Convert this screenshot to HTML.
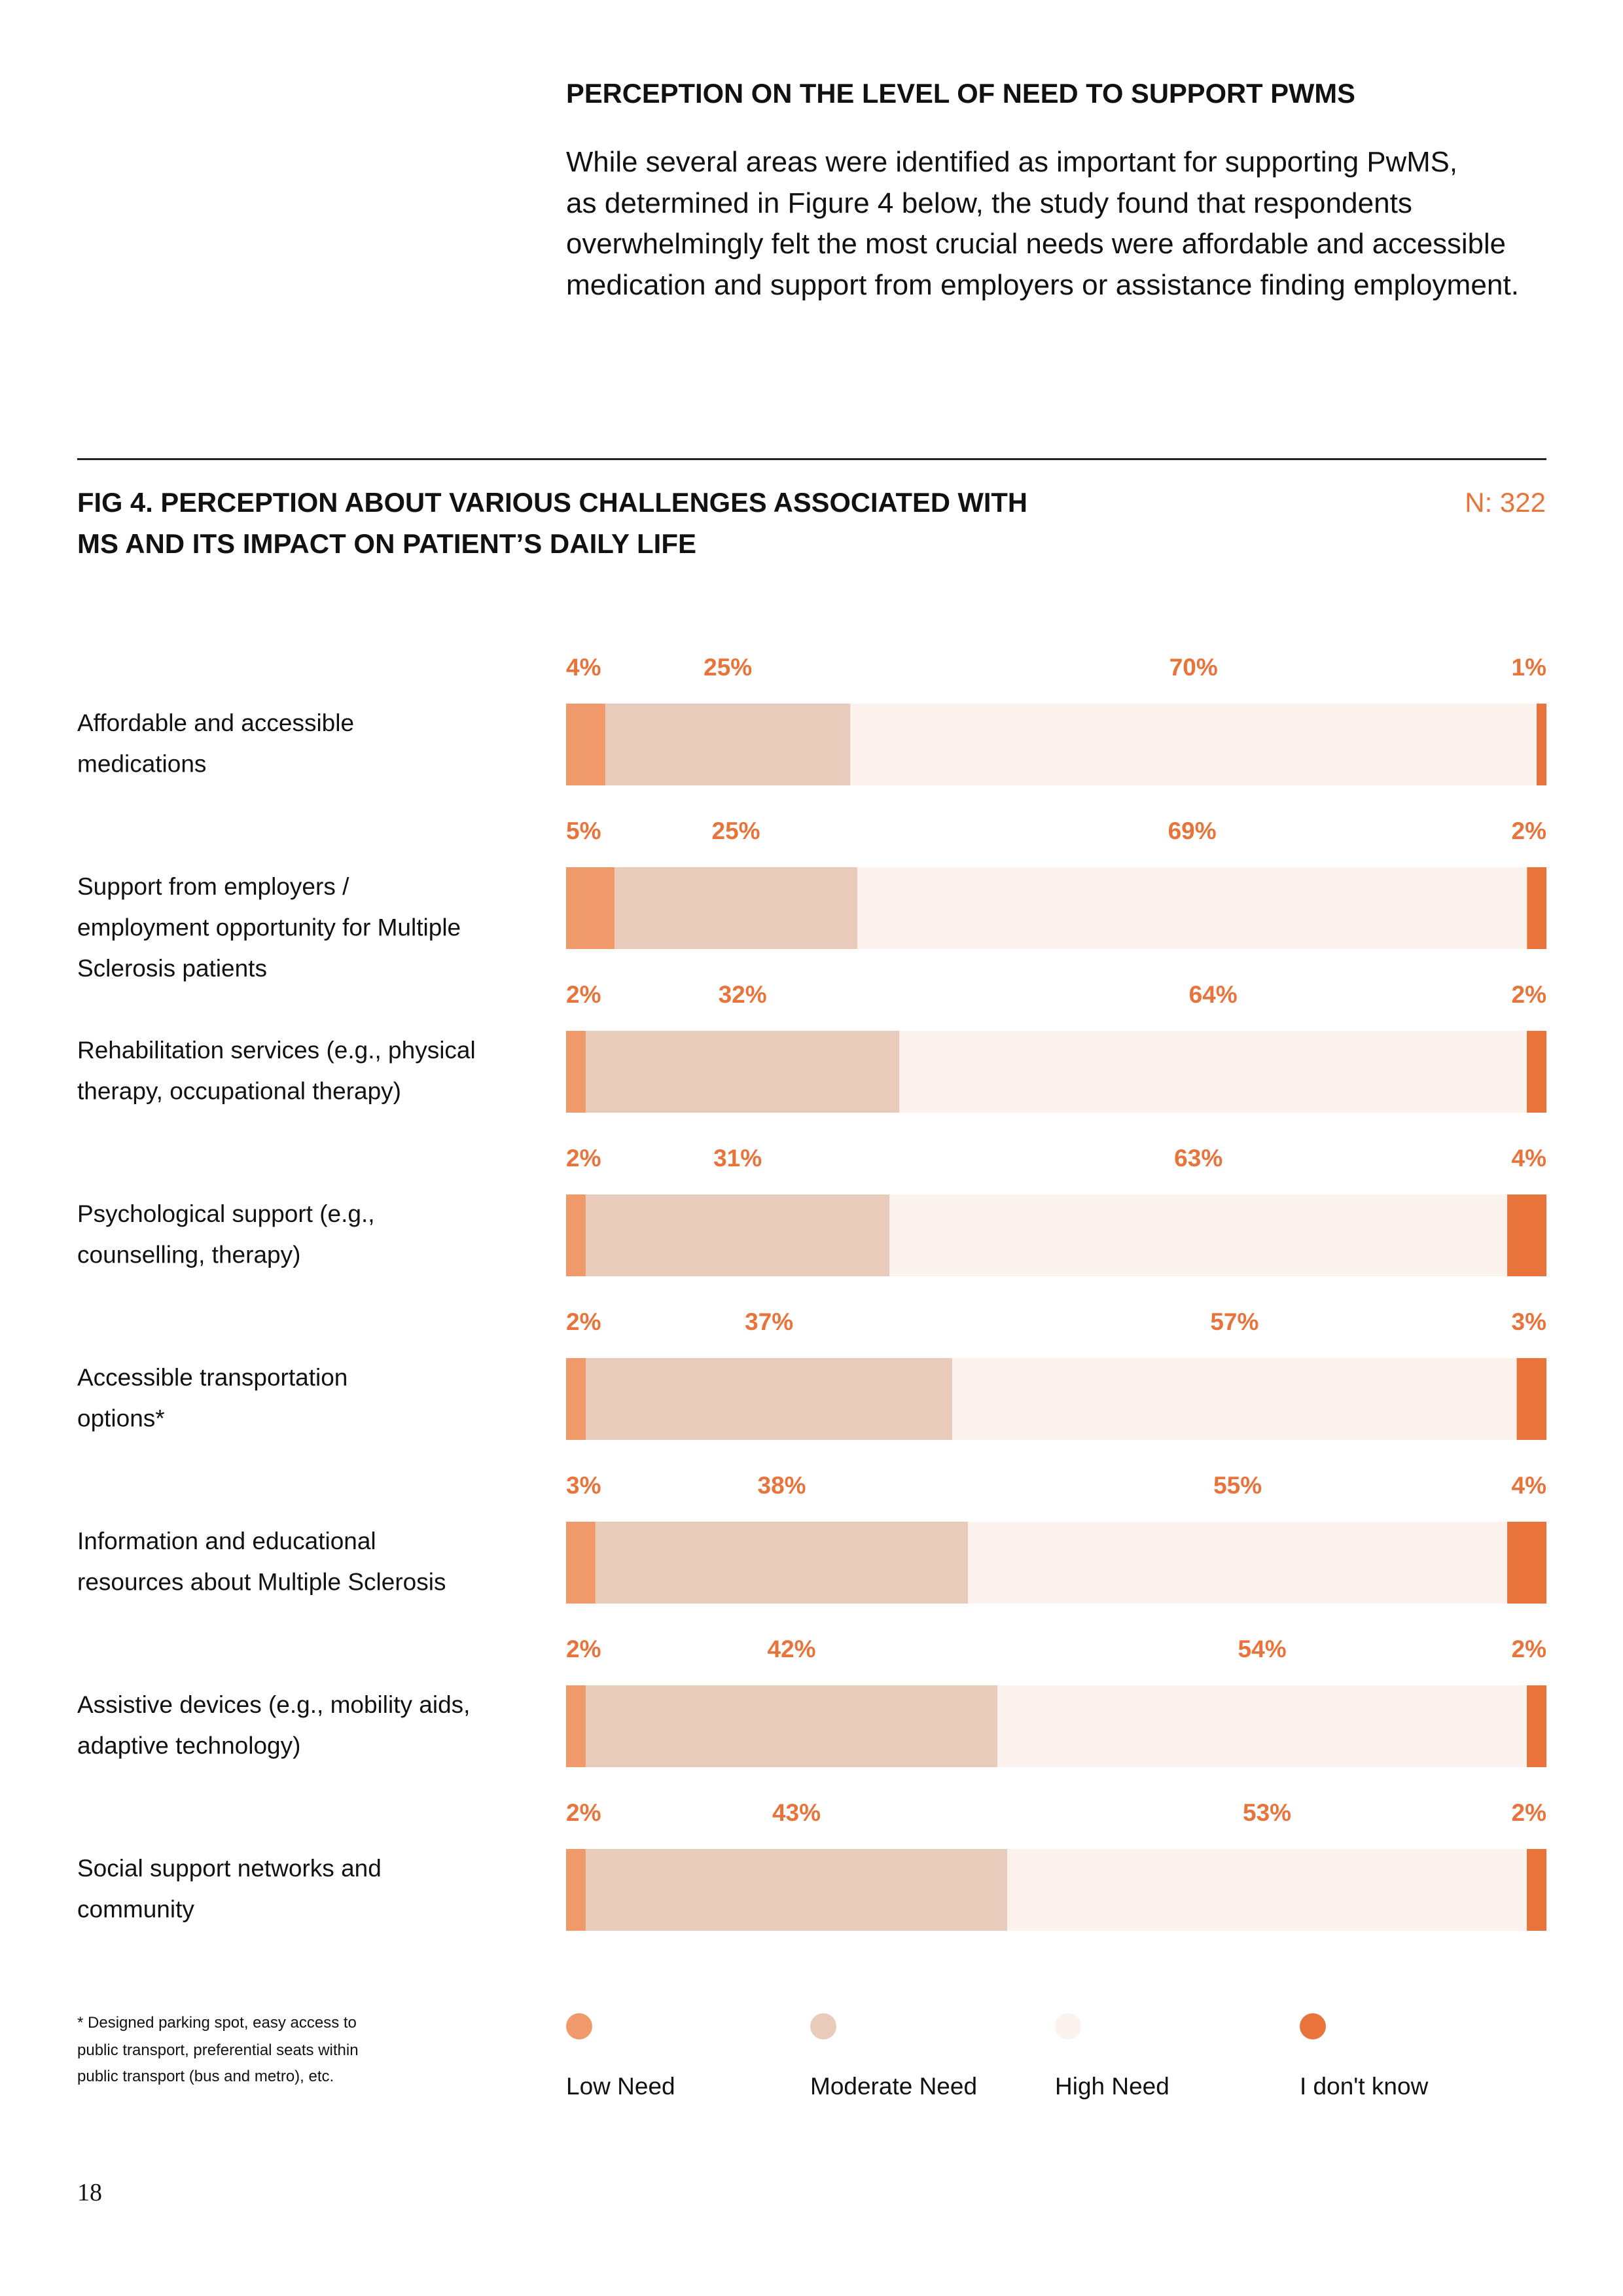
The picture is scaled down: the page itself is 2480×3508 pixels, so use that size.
<!DOCTYPE html>
<html><head><meta charset="utf-8"><style>
html,body{margin:0;padding:0;background:#fff;}
svg{display:block;font-family:"Liberation Sans",sans-serif;}
</style></head><body>
<svg id="page" width="2480" height="3508" viewBox="0 0 2480 3508" xmlns="http://www.w3.org/2000/svg">
<rect width="2480" height="3508" fill="#fff"/>
<text x="865" y="157" font-size="42" font-weight="bold" fill="#111" textLength="1206" lengthAdjust="spacingAndGlyphs">PERCEPTION ON THE LEVEL OF NEED TO SUPPORT PWMS</text>
<g font-size="44" fill="#111">
<text x="865" y="262" textLength="1362" lengthAdjust="spacingAndGlyphs">While several areas were identified as important for supporting PwMS,</text>
<text x="865" y="325" textLength="1293" lengthAdjust="spacingAndGlyphs">as determined in Figure 4 below, the study found that respondents</text>
<text x="865" y="387" textLength="1436" lengthAdjust="spacingAndGlyphs">overwhelmingly felt the most crucial needs were affordable and accessible</text>
<text x="865" y="450" textLength="1456" lengthAdjust="spacingAndGlyphs">medication and support from employers or assistance finding employment.</text>
</g>
<rect x="118" y="700" width="2245" height="3" fill="#222"/>
<g font-size="42" font-weight="bold" fill="#111">
<text x="118" y="782" textLength="1452" lengthAdjust="spacingAndGlyphs">FIG 4. PERCEPTION ABOUT VARIOUS CHALLENGES ASSOCIATED WITH</text>
<text x="118" y="845" textLength="946" lengthAdjust="spacingAndGlyphs">MS AND ITS IMPACT ON PATIENT’S DAILY LIFE</text>
</g>
<text x="2362" y="782" font-size="42" fill="#E8743B" text-anchor="end">N: 322</text>
<g id="chart"></g>
<g font-size="24" fill="#111">
<text x="118" y="3098">* Designed parking spot, easy access to</text>
<text x="118" y="3140">public transport, preferential seats within</text>
<text x="118" y="3180">public transport (bus and metro), etc.</text>
</g>
<g id="legend"></g>
<text x="118" y="3362" font-size="38" font-family="Liberation Serif, serif" fill="#111">18</text>
</svg>
<script>
const categories = [
 ["Affordable and accessible","medications"],
 ["Support from employers /","employment opportunity for Multiple","Sclerosis patients"],
 ["Rehabilitation services (e.g., physical","therapy, occupational therapy)"],
 ["Psychological support (e.g.,","counselling, therapy)"],
 ["Accessible transportation","options*"],
 ["Information and educational","resources about Multiple Sclerosis"],
 ["Assistive devices (e.g., mobility aids,","adaptive technology)"],
 ["Social support networks and","community"]
];
const lowNeed = [4,5,2,2,2,3,2,2];
const moderateNeed = [25,25,32,31,37,38,42,43];
const highNeed = [70,69,64,63,57,55,54,53];
const dontKnow = [1,2,2,4,3,4,2,2];
const seriesNames = ["Low Need","Moderate Need","High Need","I don't know"];

const NS="http://www.w3.org/2000/svg";
const colors=["#F0996B","#E8CBBA","#FCF2EE","#E8743B"];
const X0=865, W=1498, TOP0=1075, PITCH=250, BH=125;
function xScale(cum,total){return X0+cum/total*W;}
function rowY(i){return TOP0+i*PITCH;}
function mk(tag,attrs,parent){const e=document.createElementNS(NS,tag);for(const k in attrs)e.setAttribute(k,attrs[k]);parent.appendChild(e);return e;}
const chart=document.getElementById('chart');
const series=[lowNeed,moderateNeed,highNeed,dontKnow];
const segNames=['low-need','moderate-need','high-need','dont-know'];
categories.forEach((lines,i)=>{
  const y=rowY(i);
  lines.forEach((ln,j)=>{
    const t=mk('text',{x:118,y:y+42+j*62.6,'font-size':37,fill:'#111'},chart);
    
    
    t.textContent=ln;
  });
  const total=series.reduce((s,a)=>s+a[i],0);
  let cum=0;
  series.forEach((arr,k)=>{
    const x1=xScale(cum,total), x2=xScale(cum+arr[i],total);
    const r=mk('rect',{x:x1,y:y,width:Math.max(0,x2-x1),height:BH,fill:colors[k]},chart);
    
    
    let lx, anchor;
    if(k===0){lx=X0;anchor='start';}
    else if(k===3){lx=X0+W;anchor='end';}
    else {lx=(x1+x2)/2;anchor='middle';}
    const t=mk('text',{x:lx,y:y-43,'font-size':37,'font-weight':'bold',fill:'#E8743B','text-anchor':anchor},chart);
    
    
    t.textContent=arr[i]+'%';
    cum+=arr[i];
  });
});
const legend=document.getElementById('legend');
const legX=[865,1238,1612,1986];
seriesNames.forEach((n,k)=>{
  const c=mk('circle',{cx:legX[k]+20,cy:3096,r:20,fill:colors[k]},legend);
  
  
  const t=mk('text',{x:legX[k],y:3200,'font-size':37,fill:'#111'},legend);
  
  
  t.textContent=n;
});
</script>
</body></html>
